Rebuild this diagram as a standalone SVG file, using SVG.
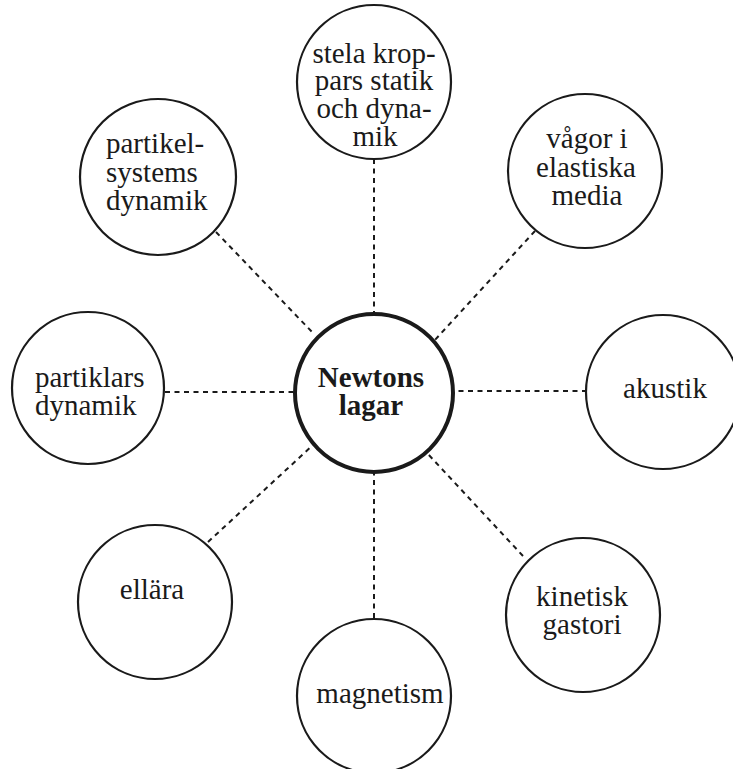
<svg xmlns="http://www.w3.org/2000/svg" width="733" height="769" viewBox="0 0 733 769">
<style>
.n{fill:#fff;stroke:#1a1a1a;stroke-width:2.2}
.c{fill:#fff;stroke:#1a1a1a;stroke-width:4}
.t{font-family:"Liberation Serif","Times New Roman",serif;font-size:29px;fill:#1a1a1a;text-anchor:middle}
.l{text-anchor:start}
.b{font-weight:bold}
.e line{stroke:#1a1a1a;stroke-width:2;stroke-dasharray:5 4.5}
</style>
<rect width="733" height="769" fill="#fff"/>
<g id="connectors" class="e">
<line x1="374" y1="159" x2="374" y2="314"/>
<line x1="535" y1="231" x2="434" y2="341"/>
<line x1="587" y1="391" x2="453" y2="391"/>
<line x1="523" y1="556" x2="427" y2="453"/>
<line x1="374" y1="618" x2="374" y2="472"/>
<line x1="208" y1="542" x2="313" y2="445"/>
<line x1="165" y1="392" x2="295" y2="392"/>
<line x1="216" y1="232" x2="313" y2="333"/>
</g>
<g id="center">
<circle class="c" cx="374" cy="393" r="79"/>
<text class="t b" x="371" y="387">Newtons</text>
<text class="t b" x="371" y="415">lagar</text>
</g>
<g id="top">
<circle class="n" cx="374" cy="82" r="77"/>
<text class="t" x="374" y="63">stela krop-</text>
<text class="t" x="374" y="90">pars statik</text>
<text class="t" x="374" y="118">och dyna-</text>
<text class="t" x="375" y="146">mik</text>
</g>
<g id="upper-right">
<circle class="n" cx="585" cy="171" r="77"/>
<text class="t" x="587" y="148">vågor i</text>
<text class="t" x="586" y="177">elastiska</text>
<text class="t" x="587" y="205">media</text>
</g>
<g id="right">
<circle class="n" cx="663" cy="392" r="77"/>
<text class="t" x="665" y="398">akustik</text>
</g>
<g id="lower-right">
<circle class="n" cx="583" cy="615" r="77"/>
<text class="t" x="582" y="606">kinetisk</text>
<text class="t" x="582" y="634">gastori</text>
</g>
<g id="bottom">
<circle class="n" cx="374" cy="696" r="77"/>
<text class="t" x="380" y="703">magnetism</text>
</g>
<g id="lower-left">
<circle class="n" cx="155" cy="602" r="77"/>
<text class="t" x="152" y="599">ellära</text>
</g>
<g id="left">
<circle class="n" cx="88" cy="388" r="76"/>
<text class="t l" x="35" y="387">partiklars</text>
<text class="t l" x="35" y="415">dynamik</text>
</g>
<g id="upper-left">
<circle class="n" cx="158" cy="177" r="78"/>
<text class="t l" x="106" y="153">partikel-</text>
<text class="t l" x="106" y="182">systems</text>
<text class="t l" x="106" y="210">dynamik</text>
</g>
</svg>
